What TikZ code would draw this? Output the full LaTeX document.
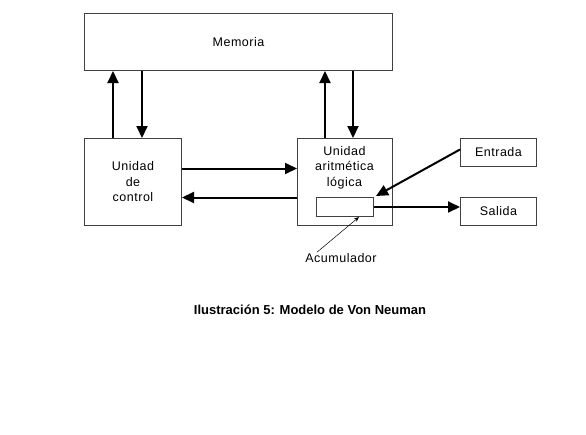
\documentclass[tikz,border=0pt]{standalone}
\usepackage{fontspec}
\setmainfont{Liberation Sans}
\newfontfamily\boxfont[LetterSpace=4]{Liberation Sans}
\usetikzlibrary{arrows.meta,calc}
\begin{document}
\begin{tikzpicture}[x=1pt,y=-1pt,
  txt/.style={font=\boxfont\fontsize{12.5}{15.5}\selectfont,align=center},
  box/.style={txt,draw=black!75,line width=1pt,inner sep=0pt,anchor=north west},
  arr/.style={line width=2pt,-{Triangle[length=12pt,width=11pt]}},
  thinarr/.style={line width=0.5pt,-{Stealth[length=5pt,width=4pt]}}]
\path[fill=white,use as bounding box] (0,0) rectangle (586,434);
\node[box,minimum width=308pt,minimum height=57pt] (mem) at (84,13) {Memoria};
\node[box,minimum width=97pt,minimum height=87pt] (ctrl) at (84,138) {Unidad\\de\\control};
\node[box,minimum width=95pt,minimum height=87pt] (alu) at (297,138) {};
\node[txt,anchor=north,inner sep=0pt] (alutext) at (344.5,146) {Unidad\\aritmética\\lógica};
\node[box,minimum width=57pt,minimum height=19pt] (acc) at (316,197) {};
\node[box,minimum width=76pt,minimum height=28pt] (ent) at (460,138) {Entrada};
\node[box,minimum width=76pt,minimum height=28pt] (sal) at (460,197) {Salida};
\node[txt,inner sep=1pt] (acclabel) at (341,258) {Acumulador};
\node[font=\bfseries\fontsize{13}{15}\selectfont] (cap) at (310,310) {Ilustración 5: Modelo de Von Neuman};
% memory links
\draw[arr] ([xshift=29]ctrl.north west) -- ([xshift=29]ctrl.north west |- mem.south);
\draw[arr] ([xshift=58]ctrl.north west |- mem.south) -- ([xshift=58]ctrl.north west);
\draw[arr] ([xshift=28]alu.north west) -- ([xshift=28]alu.north west |- mem.south);
\draw[arr] ([xshift=56]alu.north west |- mem.south) -- ([xshift=56]alu.north west);
% control <-> alu
\draw[arr] ([yshift=13.5]ctrl.east) -- ([yshift=13.5]ctrl.east -| alu.west);
\draw[arr] ([yshift=-15.5]alu.west) -- ([yshift=-15.5]alu.west -| ctrl.east);
% input / output
\draw[arr] ([yshift=3]ent.west) -- ([xshift=2pt,yshift=1pt]acc.north east);
\draw[arr] (acc.east) -- (acc.east -| sal.west);
% accumulator label
\draw[thinarr] ([xshift=-24]acclabel.north) -- ([xshift=14]acc.south);
\end{tikzpicture}
\end{document}
